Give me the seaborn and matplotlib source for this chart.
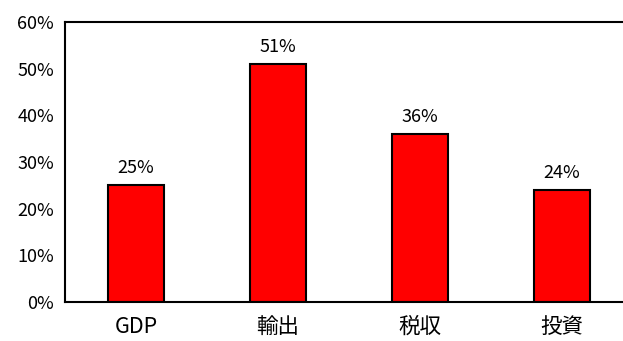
import matplotlib
matplotlib.use("Agg")
import matplotlib.pyplot as plt
import seaborn as sns
import pandas as pd
from matplotlib.ticker import FixedLocator, PercentFormatter

categories = ["GDP", "輸出", "税収", "投資"]
values = [25, 51, 36, 24]
value_labels = ["25%", "51%", "36%", "24%"]
yticks = [0, 10, 20, 30, 40, 50, 60]

sns.set_style("white")
plt.rcParams['font.family'] = ['Noto Sans CJK JP', 'DejaVu Sans']

df = pd.DataFrame({"cat": categories, "val": values})

fig = plt.figure(figsize=(6.23, 3.41), dpi=100)
ax = fig.add_axes([65/623, 1 - 302/341, 568/623, 280/341])

sns.barplot(data=df, x="cat", y="val", ax=ax, color="#ff0000", saturation=1,
            width=0.4, edgecolor="black", linewidth=1.5)

ax.set_xlim(-0.5, 3.5)
ax.set_ylim(0, 60)
ax.set_yticks(yticks)
ax.yaxis.set_major_formatter(PercentFormatter(decimals=0))
ax.set_xlabel("")
ax.set_ylabel("")

for s in ["left", "top", "bottom", "right"]:
    ax.spines[s].set_visible(True)
    ax.spines[s].set_color("black")
    ax.spines[s].set_linewidth(1.5)

ax.tick_params(axis="y", length=0, pad=8, labelsize=13, colors="black")
ax.tick_params(axis="x", which="major", length=0, pad=10, labelsize=15.5, colors="black")
ax.xaxis.set_minor_locator(FixedLocator([0.5, 1.5, 2.5]))
ax.tick_params(axis="x", which="minor", direction="in", length=4, width=1, color="black")

for i, (v, lab) in enumerate(zip(values, value_labels)):
    ax.annotate(lab, (i, v), xytext=(0, 6), textcoords="offset points",
                ha="center", va="bottom", fontsize=13, color="black")

fig.savefig("out.png", dpi=100)
